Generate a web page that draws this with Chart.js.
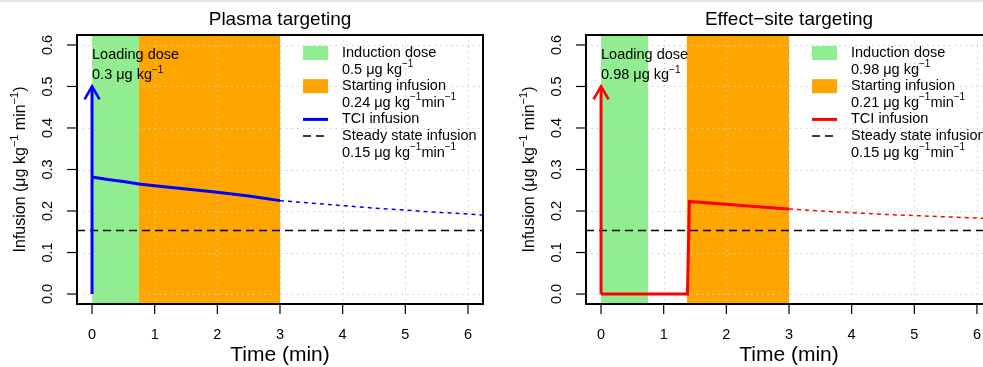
<!DOCTYPE html>
<html>
<head>
<meta charset="utf-8">
<script src="https://cdn.jsdelivr.net/npm/chart.js@4.4.1/dist/chart.umd.min.js"></script>
<style>
  body { margin: 0; width: 983px; height: 367px; overflow: hidden; background: #fff; position: relative; }
  .panel { position: absolute; top: 0; width: 509px; height: 367px; }
  .strip { position: absolute; top: 0; left: 0; width: 983px; height: 2px; background: #dde4f0; }
</style>
</head>
<body>
<div class="panel" style="left:0"><canvas id="plasmaChart"></canvas></div>
<div class="panel" style="left:509px"><canvas id="effectChart"></canvas></div>
<div class="strip"></div>
<script>
// axis ticks
const timeTicks = [0, 1, 2, 3, 4, 5, 6];
const rateTicks = [0, 0.1, 0.2, 0.3, 0.4, 0.5, 0.6];
const rateTickLabels = ['0.0', '0.1', '0.2', '0.3', '0.4', '0.5', '0.6'];

// plasma targeting
const plasmaTime = [0, 0.25, 0.5, 0.75, 1, 1.5, 2, 2.5, 3];
const plasmaRate = [0.282, 0.276, 0.271, 0.265, 0.261, 0.253, 0.245, 0.236, 0.225];
const plasmaTailTime = [3, 3.5, 4, 4.5, 5, 5.5, 6, 6.24];
const plasmaTailRate = [0.225, 0.219, 0.213, 0.207, 0.202, 0.197, 0.193, 0.190];
const plasmaInduction = [0, 0.75];
const plasmaStarting = [0.75, 3];
const plasmaLoading = 0.5;

// effect-site targeting
const effectTime = [0, 1.38, 1.41, 2, 2.5, 3];
const effectRate = [0, 0, 0.223, 0.216, 0.210, 0.205];
const effectTailTime = [3, 3.5, 4, 4.5, 5, 5.5, 6, 6.24];
const effectTailRate = [0.205, 0.200, 0.196, 0.192, 0.189, 0.186, 0.183, 0.182];
const effectInduction = [0, 0.75];
const effectStarting = [1.37, 3];
const effectLoading = 0.5;

const steadyRate = 0.153;

const X_MIN = -0.24, X_MAX = 6.24, Y_MIN = -0.024, Y_MAX = 0.624;
const FONT = '"Liberation Sans", Arial, Helvetica, sans-serif';

function pts(xs, ys) {
  return xs.map((x, i) => ({ x: x, y: ys[i] }));
}

// text with ^{...} superscripts
function parseRich(str) {
  const out = [];
  const re = /\^\{([^}]*)\}/g;
  let last = 0, m;
  while ((m = re.exec(str))) {
    if (m.index > last) out.push({ t: str.slice(last, m.index), sup: false });
    out.push({ t: m[1], sup: true });
    last = re.lastIndex;
  }
  if (last < str.length) out.push({ t: str.slice(last), sup: false });
  return out;
}

function drawRich(ctx, str, x, y, size, align) {
  const parts = parseRich(str);
  const supSize = Math.round(size * 0.7);
  let total = 0;
  parts.forEach(p => {
    ctx.font = (p.sup ? supSize : size) + 'px ' + FONT;
    p.w = ctx.measureText(p.t).width;
    total += p.w;
  });
  let cx = align === 'center' ? x - total / 2 : x;
  ctx.textAlign = 'left';
  ctx.textBaseline = 'middle';
  parts.forEach(p => {
    ctx.font = (p.sup ? supSize : size) + 'px ' + FONT;
    ctx.fillText(p.t, cx, p.sup ? y - size * 0.36 : y);
    cx += p.w;
  });
}

const decorPlugin = {
  id: 'decor',
  beforeDatasetsDraw(chart, args, opts) {
    const ctx = chart.ctx;
    const { left, right, top, bottom } = chart.chartArea;
    const xs = chart.scales.x, ys = chart.scales.y;
    ctx.save();
    // shaded periods
    opts.bands.forEach(b => {
      const x0 = xs.getPixelForValue(b.range[0]);
      const x1 = xs.getPixelForValue(b.range[1]);
      ctx.fillStyle = b.color;
      ctx.fillRect(x0, top, x1 - x0, bottom - top);
    });
    // dotted grid
    ctx.strokeStyle = '#cfcfcf';
    ctx.lineWidth = 1;
    ctx.setLineDash([1.5, 4]);
    timeTicks.forEach(t => {
      const px = Math.round(xs.getPixelForValue(t)) + 0.5;
      ctx.beginPath(); ctx.moveTo(px, top); ctx.lineTo(px, bottom); ctx.stroke();
    });
    rateTicks.forEach(v => {
      const py = Math.round(ys.getPixelForValue(v)) + 0.5;
      ctx.beginPath(); ctx.moveTo(left, py); ctx.lineTo(right, py); ctx.stroke();
    });
    ctx.restore();
  },
  afterDatasetsDraw(chart, args, opts) {
    const ctx = chart.ctx;
    const { left, right, top, bottom } = chart.chartArea;
    const xs = chart.scales.x, ys = chart.scales.y;
    ctx.save();

    // arrow head of the loading dose
    const ax = xs.getPixelForValue(0);
    const ay = ys.getPixelForValue(opts.loading);
    ctx.strokeStyle = opts.color;
    ctx.lineWidth = 2.6;
    ctx.lineCap = 'butt';
    ctx.beginPath();
    ctx.moveTo(ax - 7.5, ay + 13);
    ctx.lineTo(ax, ay);
    ctx.lineTo(ax + 7.5, ay + 13);
    ctx.stroke();

    // frame
    ctx.strokeStyle = '#000';
    ctx.lineWidth = 2;
    ctx.strokeRect(left, top, right - left, bottom - top);

    // ticks and tick labels
    ctx.lineWidth = 1.2;
    ctx.fillStyle = '#000';
    timeTicks.forEach(t => {
      const px = xs.getPixelForValue(t);
      ctx.beginPath(); ctx.moveTo(px, bottom); ctx.lineTo(px, bottom + 10); ctx.stroke();
      ctx.font = '14.5px ' + FONT;
      ctx.textAlign = 'center';
      ctx.textBaseline = 'middle';
      ctx.fillText(String(t), px, 335);
    });
    rateTicks.forEach((v, i) => {
      const py = ys.getPixelForValue(v);
      ctx.beginPath(); ctx.moveTo(left - 10, py); ctx.lineTo(left, py); ctx.stroke();
      ctx.save();
      ctx.translate(48, py);
      ctx.rotate(-Math.PI / 2);
      ctx.font = '14.5px ' + FONT;
      ctx.textAlign = 'center';
      ctx.textBaseline = 'middle';
      ctx.fillText(rateTickLabels[i], 0, 0);
      ctx.restore();
    });

    // titles
    const cx = (left + right) / 2;
    ctx.font = '19px ' + FONT;
    ctx.textAlign = 'center';
    ctx.textBaseline = 'middle';
    ctx.fillText(opts.title, cx, 20);
    ctx.font = '21px ' + FONT;
    ctx.fillText('Time (min)', cx, 355);
    ctx.save();
    ctx.translate(21, (top + bottom) / 2);
    ctx.rotate(-Math.PI / 2);
    drawRich(ctx, 'Infusion (\u03bcg kg^{\u22121} min^{\u22121})', 0, 0, 16, 'center');
    ctx.restore();

    // loading dose note
    drawRich(ctx, 'Loading dose', ax, 55, 14.5, 'left');
    drawRich(ctx, opts.loadingText, ax, 75, 14.5, 'left');

    // legend
    const sx = left + 226, tx = left + 265;
    const row = i => 53 + i * 16.6;
    let r = 0;
    opts.legend.forEach(item => {
      const y = row(r);
      if (item.type === 'box') {
        ctx.fillStyle = item.color;
        ctx.fillRect(sx, y - 7, 25, 14);
      } else {
        ctx.strokeStyle = item.color;
        ctx.lineWidth = item.width;
        ctx.setLineDash(item.dash || []);
        ctx.beginPath(); ctx.moveTo(sx, y); ctx.lineTo(sx + 25, y); ctx.stroke();
        ctx.setLineDash([]);
      }
      ctx.fillStyle = '#000';
      item.lines.forEach(line => {
        drawRich(ctx, line, tx, row(r), 14.5, 'left');
        r++;
      });
    });
    ctx.restore();
  }
};

function makeChart(canvasId, cfg) {
  return new Chart(document.getElementById(canvasId), {
    type: 'scatter',
    data: {
      datasets: [
        {
          data: pts(cfg.time, cfg.rate),
          showLine: true, borderColor: cfg.color, borderWidth: 3,
          pointRadius: 0, tension: 0
        },
        {
          data: pts([0, 0], [0, cfg.loading]),
          showLine: true, borderColor: cfg.color, borderWidth: 3, pointRadius: 0
        },
        {
          data: pts(cfg.tailTime, cfg.tailRate),
          showLine: true, borderColor: cfg.color, borderWidth: 1.5,
          borderDash: [4, 4], pointRadius: 0
        },
        {
          data: pts([X_MIN, X_MAX], [steadyRate, steadyRate]),
          showLine: true, borderColor: '#000', borderWidth: 1.5,
          borderDash: [8, 5], pointRadius: 0
        }
      ]
    },
    options: {
      responsive: true,
      maintainAspectRatio: false,
      animation: false,
      events: [],
      layout: { padding: { left: 77, right: 26, top: 35, bottom: 63 } },
      scales: {
        x: { type: 'linear', min: X_MIN, max: X_MAX, display: false },
        y: { type: 'linear', min: Y_MIN, max: Y_MAX, display: false }
      },
      plugins: {
        legend: { display: false },
        tooltip: { enabled: false },
        decor: {
          title: cfg.title,
          color: cfg.color,
          loading: cfg.loading,
          loadingText: cfg.loadingText,
          bands: [
            { range: cfg.induction, color: '#90ee90' },
            { range: cfg.starting, color: '#ffa500' }
          ],
          legend: [
            { type: 'box', color: '#90ee90', lines: ['Induction dose', cfg.inductionText] },
            { type: 'box', color: '#ffa500', lines: ['Starting infusion', cfg.startingText] },
            { type: 'line', color: cfg.color, width: 3, lines: ['TCI infusion'] },
            { type: 'line', color: '#000', width: 1.5, dash: [8, 5],
              lines: ['Steady state infusion', '0.15 \u03bcg kg^{\u22121}min^{\u22121}'] }
          ]
        }
      }
    },
    plugins: [decorPlugin]
  });
}

makeChart('plasmaChart', {
  title: 'Plasma targeting',
  color: '#0000ff',
  time: plasmaTime, rate: plasmaRate,
  tailTime: plasmaTailTime, tailRate: plasmaTailRate,
  induction: plasmaInduction, starting: plasmaStarting,
  loading: plasmaLoading,
  loadingText: '0.3 \u03bcg kg^{\u22121}',
  inductionText: '0.5 \u03bcg kg^{\u22121}',
  startingText: '0.24 \u03bcg kg^{\u22121}min^{\u22121}'
});

makeChart('effectChart', {
  title: 'Effect\u2212site targeting',
  color: '#ff0000',
  time: effectTime, rate: effectRate,
  tailTime: effectTailTime, tailRate: effectTailRate,
  induction: effectInduction, starting: effectStarting,
  loading: effectLoading,
  loadingText: '0.98 \u03bcg kg^{\u22121}',
  inductionText: '0.98 \u03bcg kg^{\u22121}',
  startingText: '0.21 \u03bcg kg^{\u22121}min^{\u22121}'
});
</script>
</body>
</html>
